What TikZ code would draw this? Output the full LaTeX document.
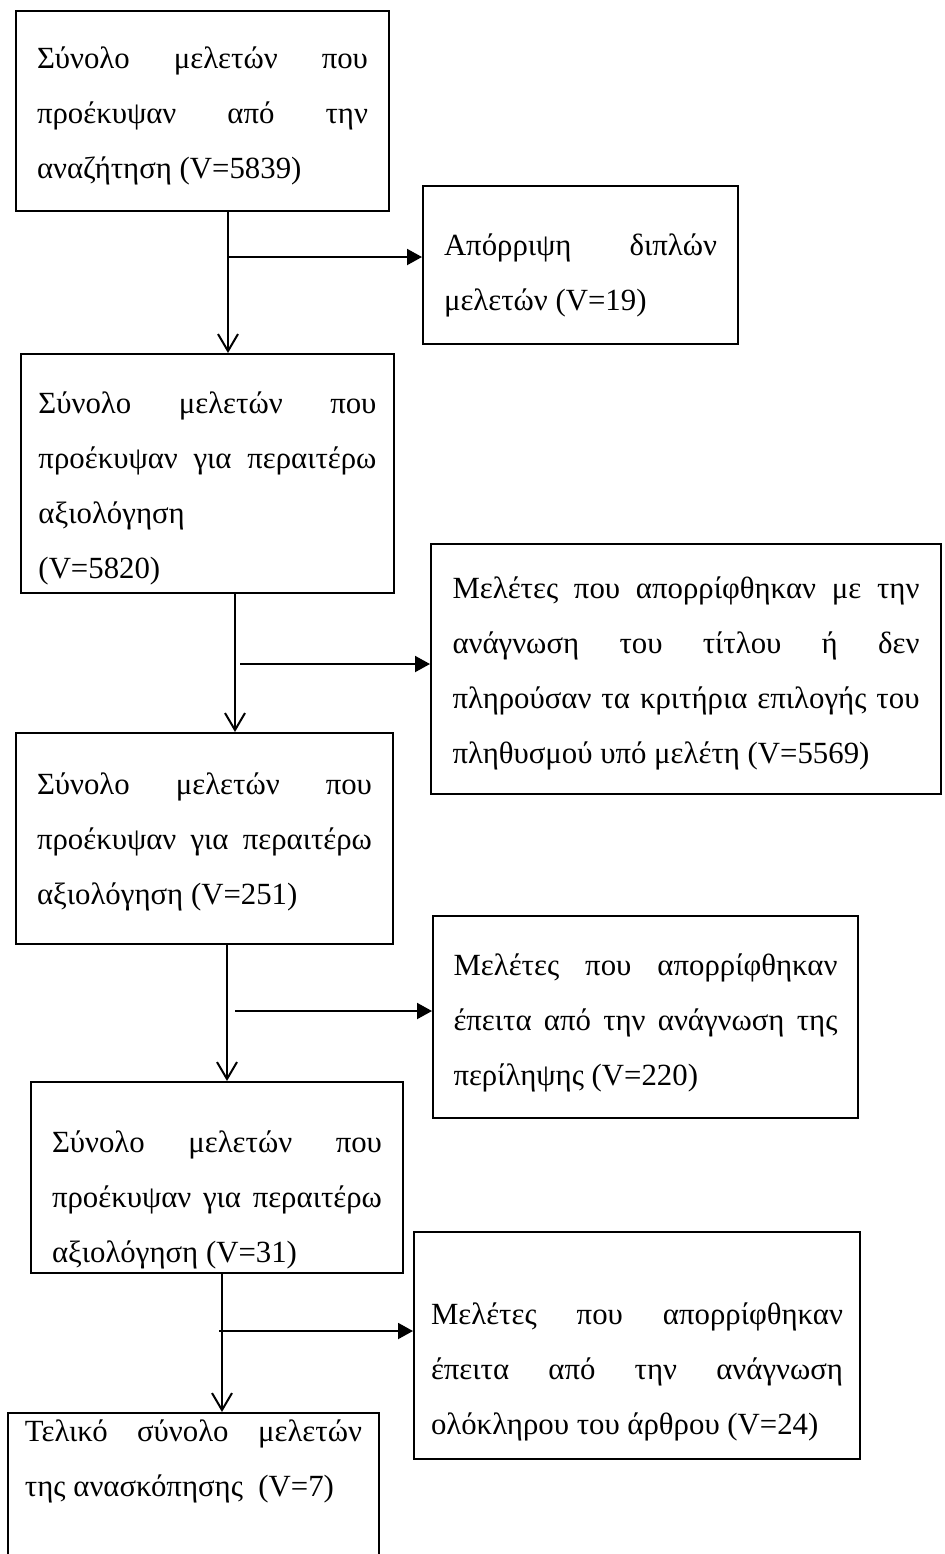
\documentclass[tikz,border=0pt]{standalone}
\usepackage{fontspec}
\setmainfont{Liberation Serif}
\usetikzlibrary{positioning, arrows.meta}

\tolerance=10000
\hbadness=10000
\hyphenpenalty=10000

\tikzset{
  box/.style={draw, line width=1pt, anchor=north west, inner ysep=0pt,
    align=justify, font=\fontsize{15.4pt}{27.5pt}\selectfont},
  flowdown/.style={line width=1pt, -{Straight Barb[length=8.5pt,width=10pt]}},
  flowside/.style={line width=1pt, -{Triangle[length=7.5pt,width=8pt]}}
}

\begin{document}
\begin{tikzpicture}[x=0.5pt, y=-0.5pt]

% page frame
\useasboundingbox (0,0) rectangle (944,1554);

% main column
\node[box, text width=165.5pt, inner xsep=10.5pt, text height=28.5pt, text depth=71.5pt] (srch) at (15,10)
  {Σύνολο μελετών που\linebreak προέκυψαν από την\linebreak αναζήτηση (V=5839)};
\node[box, text width=169pt, inner xsep=8.75pt, text height=29.5pt, text depth=90pt] (eval1) at (20,353)
  {Σύνολο μελετών που\linebreak προέκυψαν για περαιτέρω\linebreak αξιολόγηση\\(V=5820)};
\node[box, text width=167.5pt, inner xsep=10.5pt, text height=30.5pt, text depth=75pt] (eval2) at (15,732)
  {Σύνολο μελετών που\linebreak προέκυψαν για περαιτέρω\linebreak αξιολόγηση (V=251)};
\node[box, text width=165pt, inner xsep=10.5pt, text height=35pt, text depth=60.5pt] (eval3) at (30,1081)
  {Σύνολο μελετών που\linebreak προέκυψαν για περαιτέρω\linebreak αξιολόγηση (V=31)};
\node[box, text width=168.5pt, inner xsep=8.5pt, text height=14pt, text depth=136pt] (final) at (7,1412)
  {Τελικό σύνολο μελετών\linebreak της ανασκόπησης\ \ (V=7)};

% excluded studies
\node[box, text width=136.5pt, inner xsep=10.5pt, text height=34.5pt, text depth=44.5pt] (dupl) at (422,185)
  {Απόρριψη διπλών\linebreak μελετών (V=19)};
\node[box, text width=233.5pt, inner xsep=10.75pt, text height=27pt, text depth=98pt] (title) at (430,543)
  {Μελέτες που απορρίφθηκαν με την\linebreak ανάγνωση του τίτλου ή δεν\linebreak πληρούσαν τα κριτήρια επιλογής του\linebreak πληθυσμού υπό μελέτη (V=5569)};
\node[box, text width=192pt, inner xsep=10.25pt, text height=29.5pt, text depth=71.5pt] (abstr) at (432,915)
  {Μελέτες που απορρίφθηκαν\linebreak έπειτα από την ανάγνωση της\linebreak περίληψης (V=220)};
\node[box, text width=206pt, inner xsep=8.5pt, text height=46pt, text depth=67.5pt] (full) at (413,1231)
  {Μελέτες που απορρίφθηκαν\linebreak έπειτα από την ανάγνωση\linebreak ολόκληρου του άρθρου (V=24)};

% junctions
\coordinate (j1) at (228,257);
\coordinate (h1) at (228,257);
\coordinate (j2) at (235,664);
\coordinate (h2) at (240,664);
\coordinate (j3) at (227,1011);
\coordinate (h3) at (235,1011);
\coordinate (j4) at (222,1331);
\coordinate (h4) at (219,1331);

% arrows
\foreach \up/\dn/\rt/\j/\h in
{srch/eval1/dupl/j1/h1,eval1/eval2/title/j2/h2,eval2/eval3/abstr/j3/h3,eval3/final/full/j4/h4}
{
\draw[flowdown] (\up.south -| \j) -- (\dn.north -| \j);
\draw[flowside] (\h) -- (\h -| \rt.west);
}

\end{tikzpicture}
\end{document}
